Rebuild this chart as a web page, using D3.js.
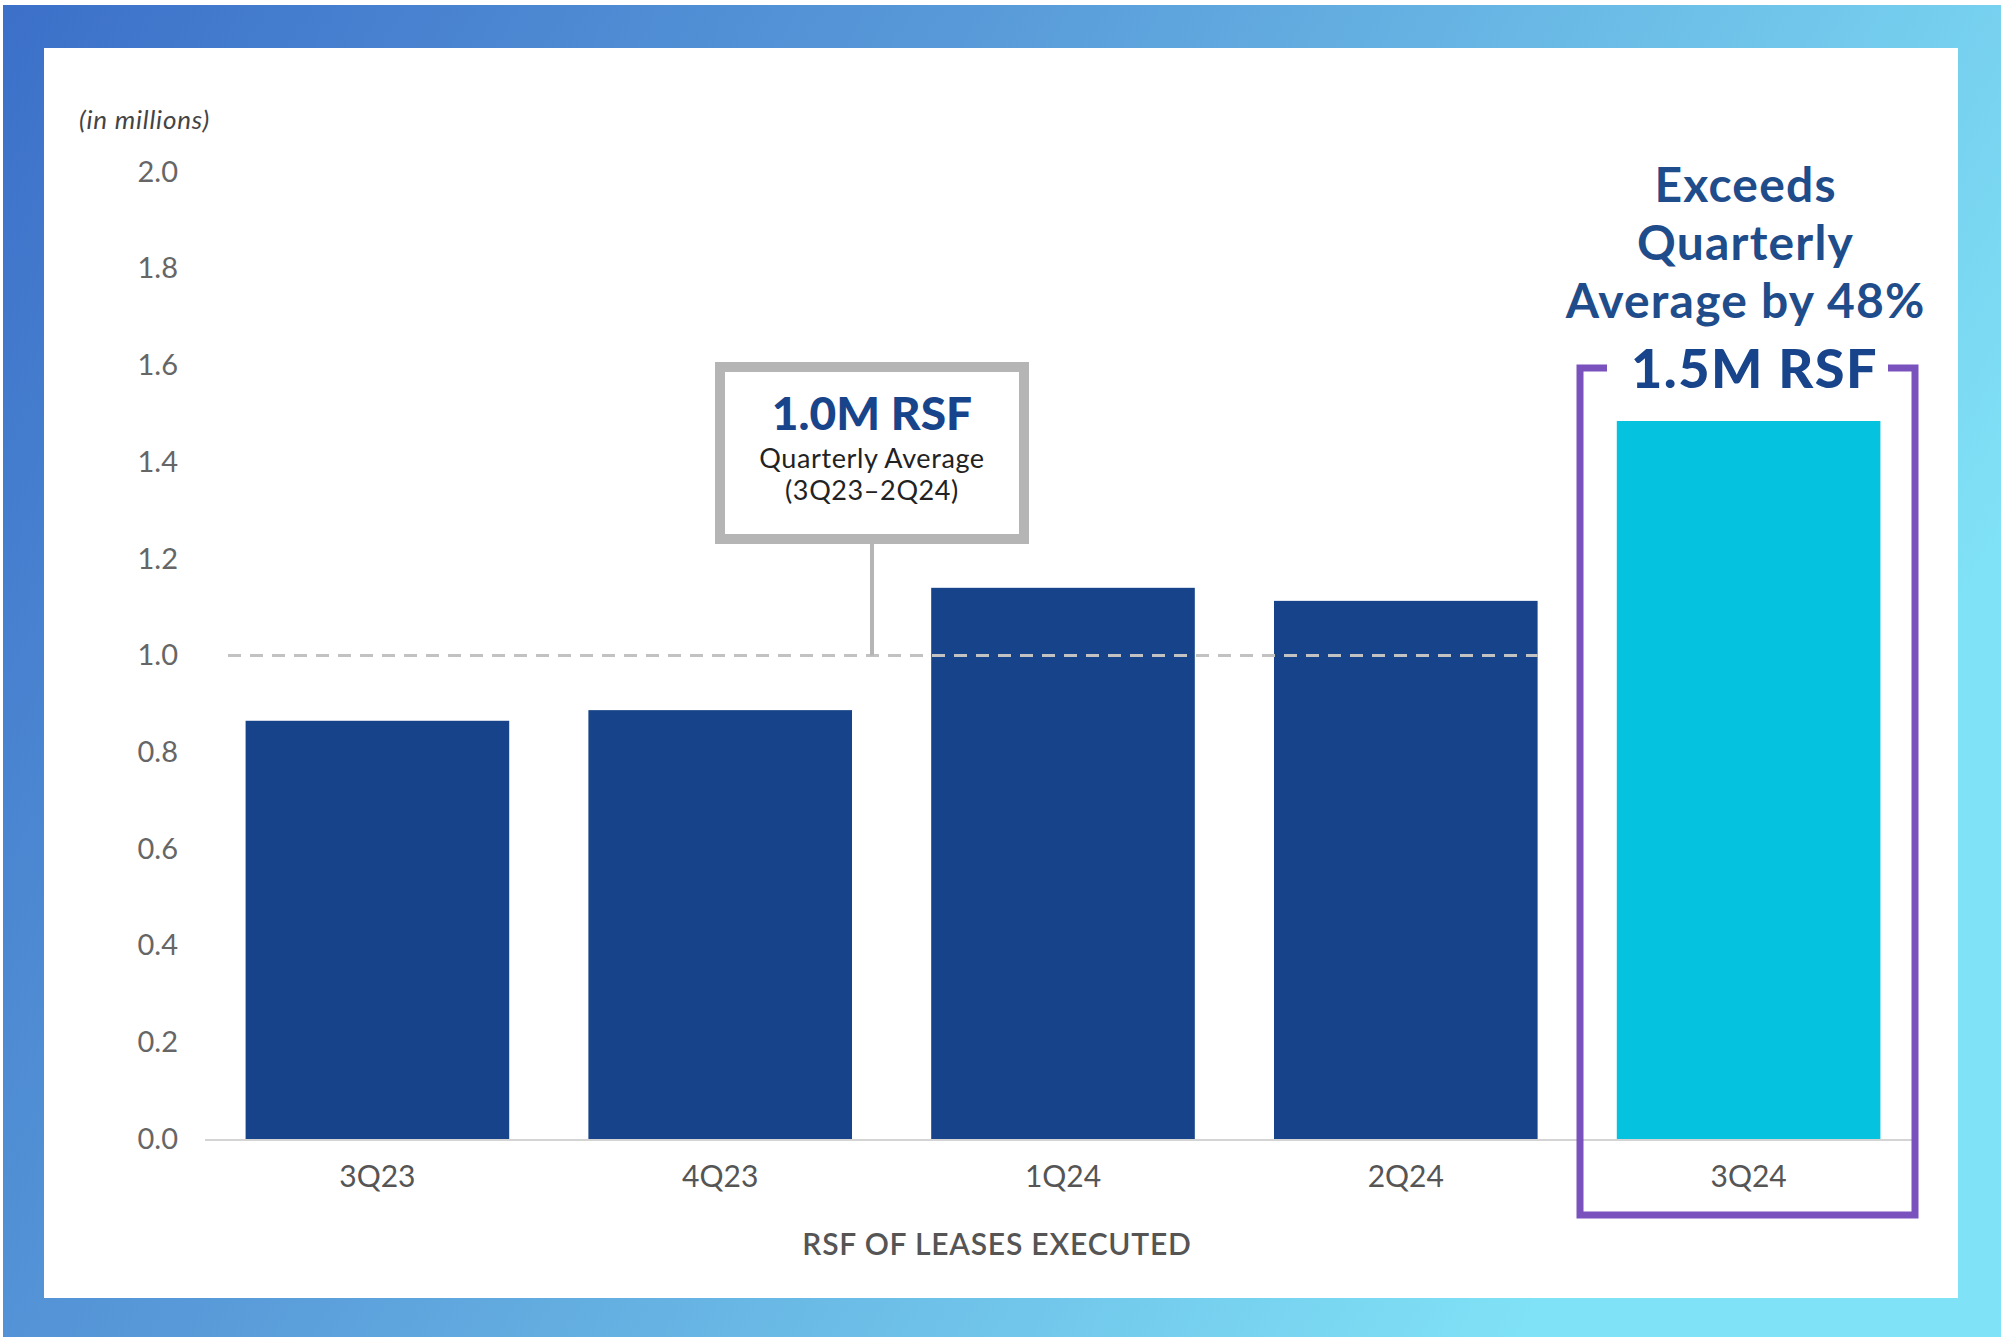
<!DOCTYPE html>
<html>
<head>
<meta charset="utf-8">
<script src="https://cdn.jsdelivr.net/npm/d3@7"></script>
<style>
  html, body { margin: 0; padding: 0; background: #fff; }
  svg { display: block; font-family: Lato, "Open Sans", sans-serif; }
</style>
</head>
<body>
<svg id="chart" width="2009" height="1337"></svg>
<script>
// data
var quarters = ['3Q23', '4Q23', '1Q24', '2Q24', '3Q24'];
var rsfValues = [0.865, 0.887, 1.14, 1.113, 1.485];
var yTicks = [0, 0.2, 0.4, 0.6, 0.8, 1.0, 1.2, 1.4, 1.6, 1.8, 2.0];
var averageValue = 1.0;
var highlightQuarter = '3Q24';
var avgLines = ['1.0M RSF', 'Quarterly Average', '(3Q23\u20132Q24)'];
var calloutLines = ['Exceeds', 'Quarterly', 'Average by 48%'];
var calloutValue = '1.5M RSF';

var svg = d3.select('#chart');
var width = +svg.attr('width');
var height = +svg.attr('height');

// gradient frame
var defs = svg.append('defs');
var grad = defs.append('linearGradient')
    .attr('id', 'frameGrad')
    .attr('x1', '0%').attr('y1', '0%')
    .attr('x2', '100%').attr('y2', '40%');
grad.append('stop').attr('offset', '0%').attr('stop-color', '#3c70c9');
grad.append('stop').attr('offset', '45%').attr('stop-color', '#5a9dda');
grad.append('stop').attr('offset', '100%').attr('stop-color', '#80e2f6');

svg.append('rect')
    .attr('x', 3).attr('y', 5)
    .attr('width', 1998).attr('height', height - 5)
    .attr('fill', 'url(#frameGrad)');
svg.append('rect')
    .attr('x', 44).attr('y', 48)
    .attr('width', 1914).attr('height', 1250)
    .attr('fill', '#ffffff');

// scales
var x = d3.scaleBand()
    .domain(quarters)
    .range([206, 1920])
    .paddingInner(0.231)
    .paddingOuter(0.1155);

var y = d3.scaleLinear()
    .domain([0, 2])
    .range([1139, 172]);

// y axis
var yAxis = svg.append('g')
    .attr('transform', 'translate(178,0)')
    .call(d3.axisLeft(y).tickValues(yTicks).tickFormat(d3.format('.1f')).tickSize(0).tickPadding(0));
yAxis.select('.domain').remove();
yAxis.selectAll('text')
    .attr('fill', '#666')
    .style('font-size', '29px')
    .style('font-family', 'Lato, sans-serif');

svg.append('text')
    .attr('x', 79).attr('y', 129)
    .attr('fill', '#444')
    .style('font-size', '26px')
    .style('letter-spacing', '0.8px')
    .style('font-style', 'italic')
    .text('(in millions)');

// bars
svg.selectAll('.bar')
    .data(quarters)
    .enter().append('rect')
    .attr('class', 'bar')
    .attr('x', function(d) { return x(d); })
    .attr('width', x.bandwidth())
    .attr('y', function(d, i) { return y(rsfValues[i]); })
    .attr('height', function(d, i) { return y(0) - y(rsfValues[i]); })
    .attr('fill', function(d) { return d === highlightQuarter ? '#05c3df' : '#164389'; });

// baseline
svg.append('line')
    .attr('x1', 205).attr('x2', 1913)
    .attr('y1', y(0) + 1).attr('y2', y(0) + 1)
    .attr('stroke', '#d4d4d4')
    .attr('stroke-width', 2);

// x axis labels
var xAxis = svg.append('g')
    .attr('transform', 'translate(0,' + y(0) + ')')
    .call(d3.axisBottom(x).tickSize(0).tickPadding(0));
xAxis.select('.domain').remove();
xAxis.selectAll('text')
    .attr('dy', null)
    .attr('y', 48)
    .attr('fill', '#555')
    .style('font-size', '30px')
    .style('font-family', 'Lato, sans-serif');

svg.append('text')
    .attr('x', 997).attr('y', 1255)
    .attr('text-anchor', 'middle')
    .attr('fill', '#555')
    .style('font-size', '30px')
    .style('letter-spacing', '0.8px')
    .style('font-weight', 600)
    .text('RSF OF LEASES EXECUTED');

// average dashed line
var avgY = y(averageValue);
svg.append('line')
    .attr('x1', 228)
    .attr('x2', x('2Q24') + x.bandwidth())
    .attr('y1', avgY).attr('y2', avgY)
    .attr('stroke', '#c2c2c2')
    .attr('stroke-width', 3)
    .attr('stroke-dasharray', '13,9');

// average annotation box
var boxCx = 872;
svg.append('line')
    .attr('x1', boxCx).attr('x2', boxCx)
    .attr('y1', 543).attr('y2', avgY)
    .attr('stroke', '#b5b5b5')
    .attr('stroke-width', 4);
svg.append('rect')
    .attr('x', 720).attr('y', 367)
    .attr('width', 304).attr('height', 172)
    .attr('fill', '#fff')
    .attr('stroke', '#b5b5b5')
    .attr('stroke-width', 10);
svg.append('text')
    .attr('x', boxCx).attr('y', 430)
    .attr('text-anchor', 'middle')
    .attr('fill', '#17448a')
    .style('font-size', '46px')
    .style('font-weight', 900)
    .text(avgLines[0]);
svg.selectAll('.avg-sub')
    .data(avgLines.slice(1))
    .enter().append('text')
    .attr('class', 'avg-sub')
    .attr('x', boxCx)
    .attr('y', function(d, i) { return 468 + i * 32; })
    .attr('text-anchor', 'middle')
    .attr('fill', '#222')
    .style('font-size', '27px')
    .style('letter-spacing', '0.6px')
    .text(function(d) { return d; });

// highlight bracket
var hx = x(highlightQuarter) + x.bandwidth() / 2;
var bracket = d3.path();
bracket.moveTo(1607, 368);
bracket.lineTo(1580, 368);
bracket.lineTo(1580, 1215);
bracket.lineTo(1915, 1215);
bracket.lineTo(1915, 368);
bracket.lineTo(1888, 368);
svg.append('path')
    .attr('d', bracket.toString())
    .attr('fill', 'none')
    .attr('stroke', '#7a52be')
    .attr('stroke-width', 7);

svg.selectAll('.callout')
    .data(calloutLines)
    .enter().append('text')
    .attr('class', 'callout')
    .attr('x', hx - 3)
    .attr('y', function(d, i) { return 202 + i * 58; })
    .attr('text-anchor', 'middle')
    .attr('fill', '#1f4c8a')
    .style('font-size', '48px')
    .style('letter-spacing', '1.2px')
    .style('font-weight', 700)
    .text(function(d) { return d; });

svg.append('text')
    .attr('x', hx + 6).attr('y', 388)
    .attr('text-anchor', 'middle')
    .attr('fill', '#17448a')
    .style('font-size', '54px')
    .style('letter-spacing', '1.5px')
    .style('font-weight', 900)
    .text(calloutValue);
</script>
</body>
</html>
